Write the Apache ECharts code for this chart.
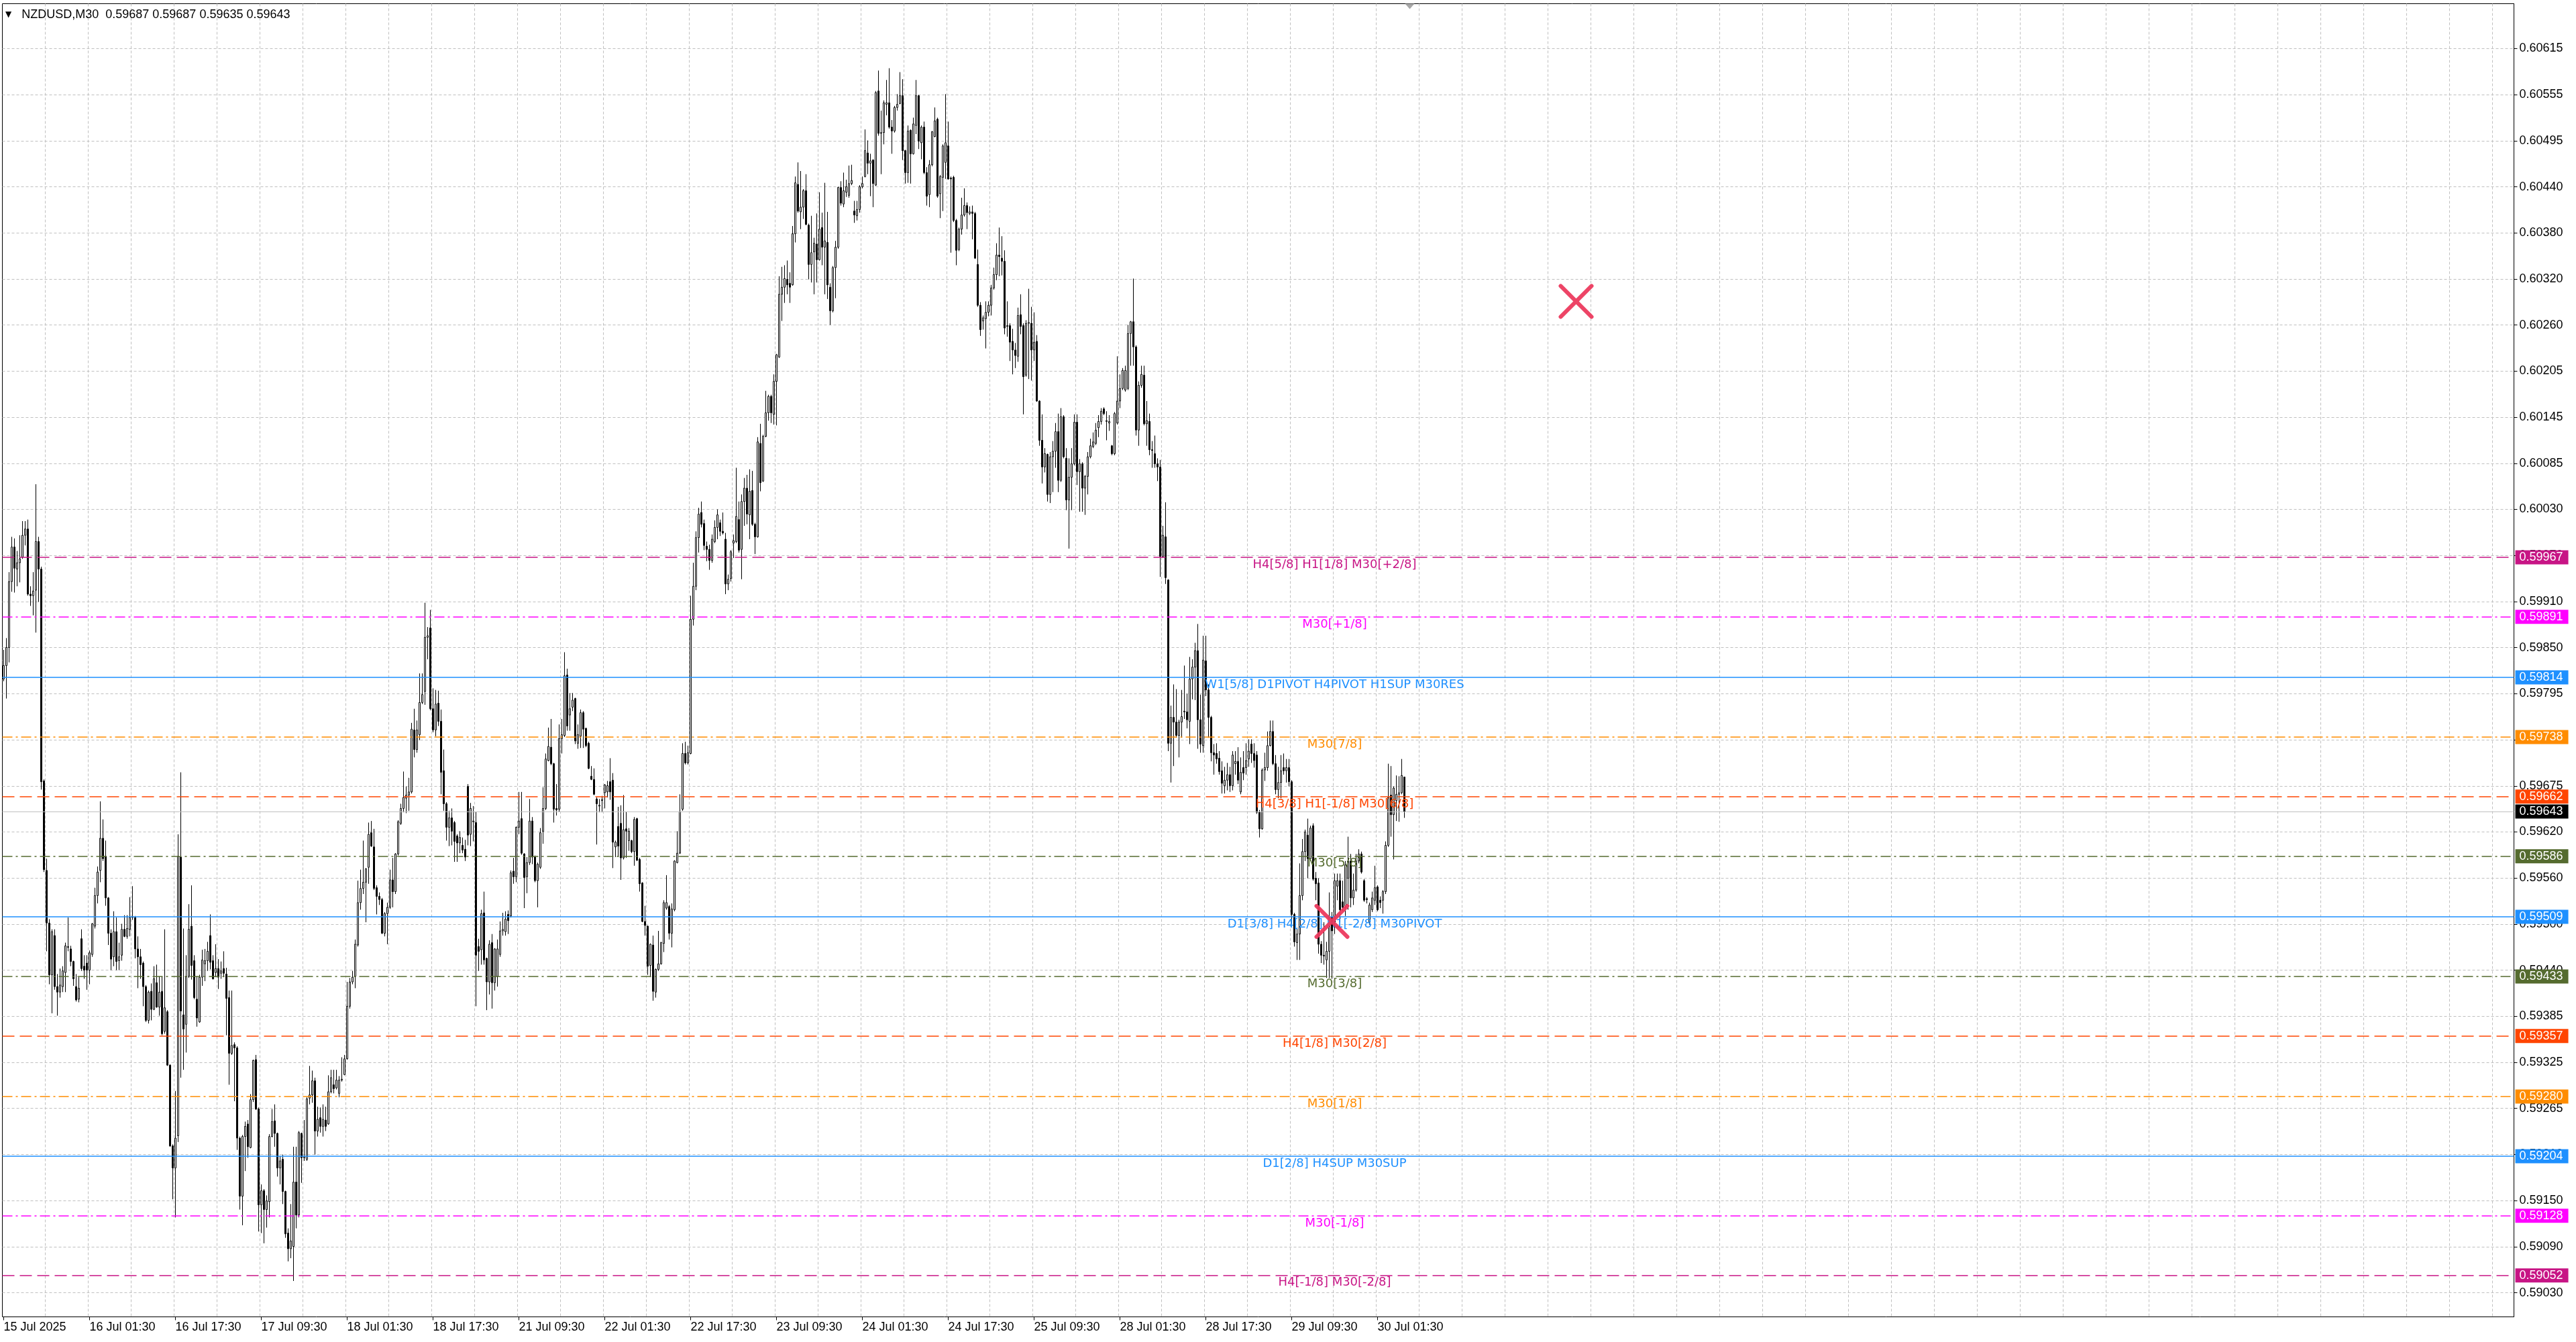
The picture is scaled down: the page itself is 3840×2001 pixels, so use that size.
<!DOCTYPE html>
<html>
<head>
<meta charset="utf-8">
<script src="https://cdn.jsdelivr.net/npm/echarts@6/dist/echarts.min.js"></script>
<style>
html, body { margin: 0; padding: 0; background: #fff; }
#chart { width: 3840px; height: 2001px; }
</style>
</head>
<body>
<div id="chart"></div>
<script>
// NZDUSD M30, prices in points (1e-5)
var symbolName = 'NZDUSD,M30';
var xLabels = ['15 Jul 2025', '16 Jul 01:30', '16 Jul 17:30', '17 Jul 09:30', '18 Jul 01:30', '18 Jul 17:30',
  '21 Jul 09:30', '22 Jul 01:30', '22 Jul 17:30', '23 Jul 09:30', '24 Jul 01:30', '24 Jul 17:30',
  '25 Jul 09:30', '28 Jul 01:30', '28 Jul 17:30', '29 Jul 09:30', '30 Jul 01:30'];
var yTickLabels = ['0.59030', '0.59090', '0.59150', '0.59210', '0.59265', '0.59325', '0.59385', '0.59440',
  '0.59500', '0.59560', '0.59620', '0.59675', '0.59735', '0.59795', '0.59850', '0.59910', '0.59970',
  '0.60030', '0.60085', '0.60145', '0.60205', '0.60260', '0.60320', '0.60380', '0.60440', '0.60495',
  '0.60555', '0.60615'];

var opens = [
  59812,59829,59852,59936,59980,59952,59960,59967,59995,60003,
  59920,59918,59925,59987,59952,59682,59568,59501,59435,59485,
  59420,59413,59420,59438,59470,59468,59452,59420,59404,59481,
  59446,59450,59441,59461,59497,59536,59568,59609,59586,59533,
  59488,59458,59490,59453,59460,59493,59484,59493,59508,59508,
  59468,59458,59450,59420,59377,59414,59391,59425,59394,59414,
  59363,59388,59320,59217,59189,59230,59585,59384,59372,59433,
  59497,59453,59404,59375,59432,59449,59453,59485,59453,59438,
  59443,59437,59443,59436,59406,59335,59346,59342,59227,59153,
  59229,59245,59215,59276,59327,59264,59142,59160,59136,59146,
  59229,59249,59233,59189,59200,59159,59106,59086,59089,59171,
  59129,59233,59202,59200,59278,59282,59300,59236,59253,59242,
  59250,59245,59286,59295,59291,59284,59301,59308,59328,59395,
  59426,59433,59473,59527,59545,59553,59572,59616,59598,59546,
  59535,59531,59488,59513,59521,59556,59541,59589,59628,59647,
  59660,59664,59668,59747,59722,59741,59782,59796,59865,59877,
  59774,59747,59781,59758,59695,59653,59623,59635,59629,59612,
  59603,59600,59595,59675,59614,59630,59629,59471,59467,59514,
  59456,59426,59476,59425,59433,59461,59491,59490,59512,59510,
  59567,59560,59623,59634,59589,59560,59578,59631,59585,59555,
  59572,59618,59647,59708,59725,59704,59647,59646,59736,59740,
  59817,59766,59776,59787,59730,59739,59769,59749,59730,59688,
  59684,59659,59650,59657,59667,59668,59681,59683,59598,59624,
  59628,59584,59621,59606,59606,59592,59634,59582,59552,59503,
  59497,59447,59473,59413,59442,59449,59475,59520,59522,59488,
  59518,59578,59590,59646,59717,59705,59717,59888,59930,59992,
  60024,60010,59981,59977,59963,59987,60005,60011,60000,59990,
  59933,59940,59985,59987,60015,59977,60038,60055,60021,60052,
  60009,59993,60112,60064,60121,60151,60172,60149,60191,60222,
  60302,60311,60321,60316,60314,60379,60442,60407,60413,60434,
  60390,60340,60356,60366,60346,60387,60362,60368,60311,60281,
  60336,60362,60438,60417,60432,60428,60443,60408,60402,60410,
  60439,60452,60482,60469,60473,60441,60561,60507,60508,60544,
  60546,60515,60510,60540,60545,60555,60485,60457,60511,60481,
  60517,60555,60495,60515,60457,60429,60467,60503,60525,60430,
  60451,60470,60491,60450,60451,60396,60359,60385,60403,60415,
  60405,60407,60405,60340,60288,60268,60271,60279,60288,60310,
  60327,60352,60348,60344,60261,60262,60242,60231,60223,60276,
  60262,60199,60265,60265,60231,60242,60166,60116,60082,60098,
  60047,60095,60102,60127,60065,60146,60093,60040,60069,60086,
  60139,60076,60086,60055,60070,60095,60108,60112,60132,60140,
  60156,60140,60138,60109,60099,60138,60166,60182,60180,60182,
  60252,60267,60235,60129,60186,60199,60137,60140,60104,60099,
  60086,60082,59968,59993,59938,59730,59763,59757,59740,59757,
  59770,59770,59758,59812,59827,59848,59760,59727,59835,59798,
  59763,59718,59717,59711,59695,59676,59683,59690,59676,59704,
  59707,59668,59699,59699,59710,59729,59717,59715,59642,59621,
  59696,59699,59727,59745,59704,59671,59680,59699,59695,59699,
  59681,59512,59476,59487,59536,59592,59613,59583,59625,59558,
  59552,59474,59460,59454,59465,59508,59502,59548,59555,59528,
  59521,59558,59580,59533,59543,59580,59589,59555,59532,59502,
  59518,59530,59547,59530,59530,59541,59600,59664,59639,59657,
  59665,59667,59687
];
var closes = [
  59829,59852,59936,59980,59953,59960,59965,59995,60003,59920,
  59918,59924,59987,59952,59681,59569,59501,59435,59490,59420,
  59413,59422,59440,59472,59471,59452,59430,59403,59418,59443,
  59441,59441,59463,59500,59536,59566,59609,59583,59533,59488,
  59455,59490,59452,59458,59493,59484,59494,59508,59509,59468,
  59458,59448,59420,59377,59413,59391,59430,59394,59413,59360,
  59393,59320,59217,59189,59227,59586,59389,59366,59433,59493,
  59447,59406,59380,59432,59454,59453,59465,59451,59430,59443,
  59432,59440,59437,59405,59335,59345,59342,59227,59153,59229,
  59242,59216,59276,59326,59264,59142,59160,59136,59147,59229,
  59248,59233,59189,59198,59159,59105,59086,59096,59171,59129,
  59234,59202,59203,59277,59282,59300,59236,59251,59242,59251,
  59242,59286,59304,59290,59301,59301,59302,59328,59395,59426,
  59432,59474,59527,59545,59553,59570,59614,59599,59545,59535,
  59531,59488,59513,59521,59556,59541,59589,59630,59647,59661,
  59664,59668,59748,59722,59747,59782,59792,59865,59867,59774,
  59747,59780,59758,59693,59653,59623,59635,59618,59605,59603,
  59610,59594,59585,59613,59647,59631,59460,59465,59513,59454,
  59426,59474,59425,59468,59468,59491,59493,59506,59504,59565,
  59560,59623,59631,59590,59559,59578,59631,59585,59555,59576,
  59616,59647,59710,59726,59704,59646,59645,59736,59741,59816,
  59752,59774,59785,59733,59741,59769,59748,59727,59698,59684,
  59665,59653,59651,59658,59677,59676,59668,59604,59604,59599,
  59584,59620,59618,59618,59592,59633,59581,59551,59503,59498,
  59446,59474,59414,59442,59449,59476,59527,59527,59488,59519,
  59580,59590,59643,59717,59705,59718,59888,59930,59992,60022,
  60009,59982,59977,59963,59990,60005,60021,60000,59998,59933,
  59939,59974,59988,60019,59976,60038,60055,60022,60051,60009,
  59993,60114,60062,60121,60151,60172,60151,60191,60225,60302,
  60311,60322,60314,60311,60379,60444,60408,60413,60434,60391,
  60340,60355,60367,60346,60385,60362,60370,60314,60281,60336,
  60362,60438,60418,60434,60439,60443,60447,60403,60410,60439,
  60443,60485,60469,60472,60443,60559,60507,60508,60546,60546,
  60515,60510,60540,60544,60555,60485,60457,60510,60481,60519,
  60555,60497,60515,60457,60427,60467,60509,60523,60427,60452,
  60491,60495,60449,60449,60396,60358,60385,60403,60415,60406,
  60407,60405,60348,60288,60257,60272,60279,60288,60310,60327,
  60352,60350,60344,60259,60262,60241,60231,60224,60275,60261,
  60197,60265,60266,60231,60241,60166,60116,60082,60099,60047,
  60095,60102,60127,60065,60146,60095,60040,60069,60086,60139,
  60076,60086,60055,60070,60095,60109,60114,60129,60140,60153,
  60150,60141,60140,60099,60150,60166,60182,60205,60205,60252,
  60267,60235,60129,60186,60200,60137,60141,60104,60103,60086,
  60082,59968,59995,59941,59730,59763,59757,59740,59757,59764,
  59771,59760,59812,59827,59848,59760,59729,59836,59798,59763,
  59718,59715,59710,59694,59679,59683,59690,59676,59715,59707,
  59683,59693,59692,59708,59720,59717,59708,59642,59621,59696,
  59699,59727,59745,59704,59671,59680,59695,59695,59699,59681,
  59512,59477,59487,59536,59592,59617,59583,59622,59557,59551,
  59474,59460,59459,59465,59508,59491,59555,59555,59518,59521,
  59575,59580,59533,59543,59580,59589,59566,59530,59531,59524,
  59533,59546,59518,59527,59541,59600,59661,59639,59673,59665,
  59667,59689,59643
];
var highs = [
  59849,59864,59948,59993,59991,59975,59995,60013,60013,60015,
  59930,59948,60060,59993,59955,59684,59583,59506,59493,59493,
  59436,59443,59446,59476,59508,59472,59453,59436,59432,59493,
  59460,59460,59466,59501,59546,59573,59656,59633,59606,59534,
  59493,59516,59508,59476,59500,59511,59511,59534,59548,59510,
  59484,59468,59452,59422,59415,59424,59446,59448,59433,59433,
  59493,59390,59321,59219,59287,59614,59693,59494,59460,59525,
  59549,59460,59433,59435,59467,59468,59477,59512,59460,59474,
  59455,59452,59465,59444,59415,59415,59349,59344,59229,59231,
  59248,59250,59283,59327,59333,59266,59168,59162,59154,59232,
  59264,59270,59234,59204,59206,59160,59112,59143,59216,59216,
  59236,59234,59250,59279,59319,59313,59304,59267,59266,59270,
  59267,59307,59314,59314,59314,59306,59330,59333,59426,59431,
  59440,59480,59555,59569,59606,59571,59629,59631,59621,59549,
  59540,59533,59515,59527,59569,59584,59590,59632,59653,59694,
  59675,59686,59756,59774,59759,59819,59819,59909,59878,59900,
  59800,59798,59797,59773,59722,59655,59644,59647,59631,59614,
  59618,59610,59607,59678,59654,59650,59643,59481,59518,59541,
  59457,59479,59487,59469,59480,59503,59514,59516,59517,59568,
  59584,59624,59668,59668,59590,59585,59659,59636,59587,59578,
  59622,59674,59717,59750,59761,59705,59678,59754,59761,59846,
  59825,59794,59794,59788,59754,59773,59771,59750,59732,59701,
  59698,59661,59659,59663,59678,59682,59711,59692,59606,59649,
  59651,59664,59643,59622,59607,59636,59635,59584,59553,59523,
  59498,59475,59485,59443,59491,59477,59530,59562,59524,59526,
  59581,59618,59665,59730,59732,59727,59918,59960,60000,60030,
  60038,60015,59987,59983,59996,60014,60028,60015,60024,59998,
  59945,59976,59996,60081,60038,60047,60068,60072,60079,60077,
  60011,60120,60137,60123,60179,60174,60174,60200,60226,60325,
  60337,60339,60345,60330,60389,60452,60470,60459,60436,60455,
  60392,60402,60374,60405,60432,60406,60444,60407,60316,60338,
  60370,60439,60446,60457,60448,60466,60467,60421,60421,60441,
  60452,60512,60498,60481,60474,60561,60587,60536,60549,60575,
  60590,60524,60542,60557,60585,60576,60486,60517,60512,60527,
  60575,60556,60517,60522,60464,60473,60510,60540,60527,60454,
  60493,60557,60522,60452,60453,60398,60387,60425,60437,60419,
  60414,60415,60407,60359,60292,60275,60293,60293,60314,60336,
  60367,60387,60376,60358,60293,60265,60258,60240,60285,60302,
  60265,60269,60309,60286,60279,60250,60167,60149,60106,60099,
  60101,60115,60138,60150,60157,60148,60106,60093,60106,60149,
  60149,60092,60088,60072,60101,60118,60126,60138,60148,60157,
  60158,60153,60148,60110,60152,60223,60200,60208,60211,60263,
  60268,60322,60237,60191,60211,60211,60166,60150,60115,60122,
  60093,60091,60007,60037,59939,59778,59805,59799,59760,59798,
  59829,59793,59840,59837,59858,59882,59792,59867,59867,59805,
  59765,59729,59730,59720,59707,59700,59705,59700,59720,59720,
  59725,59712,59720,59730,59735,59735,59730,59720,59645,59698,
  59718,59745,59759,59759,59715,59700,59715,59717,59710,59710,
  59683,59514,59495,59577,59608,59620,59634,59625,59628,59566,
  59558,59478,59502,59477,59540,59515,59564,59564,59564,59555,
  59580,59611,59589,59564,59589,59595,59592,59557,59534,59527,
  59541,59574,59549,59535,59543,59605,59704,59701,59675,59689,
  59688,59710,59687
];
var lows = [
  59809,59787,59833,59923,59922,59930,59935,59965,59982,59918,
  59905,59893,59871,59910,59671,59566,59465,59423,59386,59416,
  59383,59406,59413,59413,59465,59446,59421,59401,59400,59440,
  59430,59416,59423,59458,59494,59526,59553,59580,59523,59473,
  59441,59446,59441,59441,59453,59483,59481,59484,59505,59456,
  59418,59430,59395,59375,59373,59377,59390,59393,59383,59358,
  59360,59319,59216,59149,59126,59222,59304,59314,59336,59431,
  59429,59404,59369,59374,59421,59427,59440,59442,59429,59432,
  59417,59430,59432,59358,59295,59333,59274,59212,59136,59116,
  59185,59202,59214,59273,59263,59108,59106,59093,59113,59126,
  59228,59216,59178,59168,59143,59100,59070,59074,59045,59112,
  59126,59170,59198,59198,59270,59272,59206,59229,59234,59229,
  59236,59244,59284,59284,59289,59279,59299,59307,59327,59392,
  59423,59418,59471,59518,59538,59502,59551,59598,59543,59512,
  59524,59487,59484,59474,59519,59521,59538,59587,59626,59642,
  59641,59644,59666,59712,59718,59734,59780,59779,59837,59772,
  59744,59739,59752,59665,59644,59606,59599,59600,59579,59579,
  59590,59590,59580,59600,59599,59605,59395,59440,59448,59448,
  59390,59410,59392,59415,59420,59458,59485,59485,59487,59508,
  59551,59553,59614,59588,59520,59539,59575,59576,59553,59521,
  59570,59602,59645,59707,59702,59629,59638,59643,59717,59738,
  59746,59746,59771,59729,59723,59724,59724,59725,59697,59683,
  59664,59601,59642,59642,59647,59661,59658,59571,59585,59585,
  59556,59582,59584,59593,59590,59574,59580,59541,59502,59485,
  59435,59432,59402,59406,59440,59448,59464,59518,59480,59470,
  59516,59577,59589,59644,59703,59703,59716,59880,59925,59973,
  60005,59976,59962,59951,59960,59985,59990,59994,59996,59920,
  59925,59936,59966,59985,59973,59939,60007,60009,59990,60007,
  59971,59992,60051,60063,60120,60141,60138,60136,60135,60221,
  60268,60291,60302,60291,60313,60368,60406,60385,60398,60390,
  60321,60317,60302,60317,60345,60339,60302,60296,60263,60279,
  60297,60360,60415,60413,60426,60425,60441,60393,60396,60406,
  60437,60451,60455,60427,60413,60440,60504,60455,60493,60530,
  60513,60481,60508,60536,60544,60473,60443,60444,60443,60480,
  60506,60487,60474,60455,60415,60413,60465,60502,60425,60399,
  60408,60449,60448,60355,60394,60339,60357,60378,60401,60385,
  60403,60372,60347,60286,60249,60257,60233,60274,60275,60308,
  60320,60325,60326,60251,60248,60217,60200,60208,60216,60251,
  60149,60197,60194,60192,60217,60165,60109,60061,60075,60038,
  60036,60050,60081,60050,60063,60093,60027,59978,60027,60084,
  60059,60025,60025,60021,60047,60093,60106,60110,60120,60136,
  60148,60116,60128,60097,60097,60136,60157,60180,60178,60180,
  60211,60211,60122,60109,60183,60135,60109,60097,60081,60081,
  60064,59942,59966,59933,59720,59680,59701,59737,59712,59737,
  59761,59749,59729,59786,59785,59723,59718,59718,59790,59737,
  59707,59690,59704,59690,59666,59666,59670,59668,59670,59690,
  59678,59665,59683,59690,59700,59705,59699,59640,59610,59620,
  59682,59695,59726,59702,59665,59660,59660,59690,59680,59675,
  59500,59471,59454,59454,59530,59580,59558,59580,59555,59530,
  59462,59450,59448,59431,59431,59430,59487,59530,59502,59516,
  59510,59518,59521,59524,59541,59577,59564,59528,59526,59499,
  59515,59524,59516,59520,59513,59538,59598,59611,59582,59631,
  59630,59665,59635
];

// Murrey math levels
var levelValues = [0.59967, 0.59891, 0.59814, 0.59738, 0.59662, 0.59586, 0.59509,
  0.59433, 0.59357, 0.59280, 0.59204, 0.59128, 0.59052];
var levelNames = ['H4[5/8] H1[1/8] M30[+2/8]', 'M30[+1/8]', 'W1[5/8] D1PIVOT H4PIVOT H1SUP M30RES',
  'M30[7/8]', 'H4[3/8] H1[-1/8] M30[6/8]', 'M30[5/8]', 'D1[3/8] H4[2/8] H1[-2/8] M30PIVOT',
  'M30[3/8]', 'H4[1/8] M30[2/8]', 'M30[1/8]', 'D1[2/8] H4SUP M30SUP', 'M30[-1/8]', 'H4[-1/8] M30[-2/8]'];
// cross markers [bar index, price]
var crossMarks = [[586, 0.60293], [495, 0.59503]];

// styles
var levelColors = ['#C71585', '#FF00FF', '#1E90FF', '#FF8C00', '#FF4500', '#556B2F', '#1E90FF',
  '#556B2F', '#FF4500', '#FF8C00', '#1E90FF', '#FF00FF', '#C71585'];
var levelDash = ['dash', 'dot', 'solid', 'dot', 'dash', 'dot', 'solid', 'dot', 'dash', 'dot', 'solid', 'dot', 'dash'];
var dashTypes = { dash: [18, 8], dot: [15, 5, 3, 5], solid: 'solid' };

var FONT = "'Liberation Sans', Arial, sans-serif";
var LFONT = "'DejaVu Sans', Verdana, sans-serif";
var totalBars = 936;   // bars that fit the visible window
var labelBar = 496;    // where level captions sit
var yMin = 0.589993, yMax = 0.606722;

var myChart = echarts.init(document.getElementById('chart'));

var cats = [];
for (var i = 0; i < totalBars; i++) cats.push(String(i));

var candles = opens.map(function (o, i) {
  return [o / 1e5, closes[i] / 1e5, lows[i] / 1e5, highs[i] / 1e5];
});
var last = opens.length - 1;
var lastClose = closes[last] / 1e5;

// y ticks evenly spaced between first and last label (MT4 grid)
var tLo = parseFloat(yTickLabels[0]), tHi = parseFloat(yTickLabels[yTickLabels.length - 1]);
var tStep = (tHi - tLo) / (yTickLabels.length - 1);
var yTickValues = yTickLabels.map(function (s, i) { return tLo + i * tStep; });

function boxLabel(text, bg) {
  return {
    show: true, position: 'end', distance: 2, formatter: text,
    backgroundColor: bg, color: '#fff', padding: [2, 8, 1, 6],
    fontFamily: FONT, fontSize: 18, lineHeight: 18, opacity: 1
  };
}

var lineData = levelValues.map(function (v, i) {
  return {
    yAxis: v,
    lineStyle: { color: levelColors[i], type: dashTypes[levelDash[i]], width: 1.5, opacity: 1 },
    label: boxLabel(v.toFixed(5), levelColors[i])
  };
});
lineData.push({
  yAxis: lastClose,
  lineStyle: { color: '#C0C0C0', type: 'solid', width: 1.2, opacity: 1 },
  label: boxLabel(lastClose.toFixed(5), '#000')
});

var showLabel = function (idx) { return idx % 32 === 0 && idx / 32 < xLabels.length; };

myChart.setOption({
  animation: false,
  backgroundColor: '#fff',
  title: {
    text: '{t|\u25BC}   ' + symbolName + '  ' +
      [opens[last], highs[last], lows[last], closes[last]].map(function (v) { return (v / 1e5).toFixed(5); }).join(' '),
    left: 8, top: 13, padding: 0,
    textStyle: {
      fontFamily: FONT, fontSize: 18, fontWeight: 'normal', color: '#000',
      rich: { t: { fontFamily: LFONT, fontSize: 12, color: '#000' } }
    }
  },
  grid: {
    left: 3.5, right: 92.5, top: 5.5, bottom: 37.5,
    show: true, borderColor: '#000', borderWidth: 1, backgroundColor: '#fff'
  },
  xAxis: {
    type: 'category', data: cats, boundaryGap: true,
    axisLine: { show: false },
    axisTick: { show: true, alignWithLabel: true, interval: showLabel, length: 5, lineStyle: { color: '#000' } },
    axisLabel: {
      interval: showLabel, align: 'left', margin: 7,
      formatter: function (v, idx) { return xLabels[idx / 32]; },
      fontFamily: FONT, fontSize: 18, color: '#000'
    },
    splitLine: {
      show: true,
      interval: function (idx) { return idx % 16 === 0 && idx > 0; },
      lineStyle: { color: '#C0C0C0', type: [4, 3], width: 1 }
    }
  },
  yAxis: {
    type: 'value', position: 'right', min: yMin, max: yMax, scale: true,
    axisLine: { show: true, lineStyle: { color: '#000' } },
    axisTick: { show: true, customValues: yTickValues, length: 5, lineStyle: { color: '#000' } },
    axisLabel: {
      customValues: yTickValues, margin: 8,
      formatter: function (v) { return yTickLabels[Math.round((v - tLo) / tStep)]; },
      fontFamily: FONT, fontSize: 18, color: '#000'
    },
    splitLine: { show: true, lineStyle: { color: '#C0C0C0', type: [4, 3], width: 1 } }
  },
  series: [
    {
      type: 'candlestick',
      data: candles,
      barWidth: 2,
      large: false,
      itemStyle: { color: '#fff', color0: '#000', borderColor: '#000', borderColor0: '#000', borderWidth: 1 },
      z: 3
    },
    {
      type: 'scatter',
      silent: true,
      clip: false,
      symbolSize: 0,
      itemStyle: { opacity: 1 },
      data: levelValues.map(function (v, i) {
        return { value: [labelBar, v], name: levelNames[i], label: { color: levelColors[i] } };
      }),
      label: {
        show: true, position: 'bottom', distance: 2, opacity: 1,
        formatter: function (p) { return p.name; },
        fontFamily: LFONT, fontSize: 18
      },
      markLine: { symbol: ['none', 'none'], silent: true, animation: false, precision: 5, data: lineData },
      z: 6
    },
    {
      type: 'scatter',
      silent: true,
      symbol: 'path://M0,0L10,10M10,0L0,10',
      symbolSize: 46,
      data: crossMarks,
      itemStyle: { color: 'rgba(0,0,0,0)', borderColor: '#EC3A5E', borderWidth: 6, borderCap: 'round', opacity: 0.95 },
      z: 8
    },
    {
      type: 'scatter',
      silent: true,
      clip: false,
      symbol: 'triangle',
      symbolRotate: 180,
      symbolSize: [14, 8],
      symbolOffset: [0, 4],
      data: [[opens.length + 1, yMax]],
      itemStyle: { color: '#A8A8A8', opacity: 1 },
      z: 8
    }
  ]
});
</script>
</body>
</html>
